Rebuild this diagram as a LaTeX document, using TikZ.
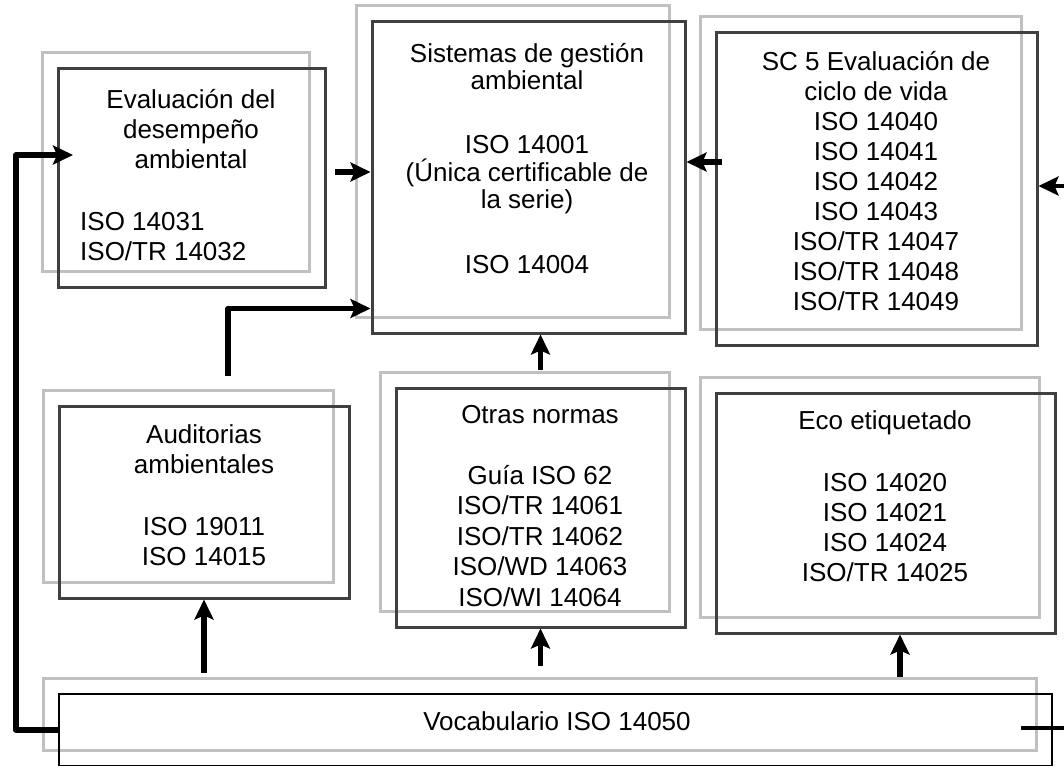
\documentclass[tikz,border=0pt]{standalone}
\usepackage{fontspec}
\setmainfont{Liberation Sans}
\usepackage{tikz}
\usetikzlibrary{arrows.meta,positioning,shadows,calc}
\definecolor{grisoscuro}{RGB}{64,64,64}
\definecolor{grisclaro}{RGB}{192,192,192}
\tikzset{
  caja/.style={rectangle,draw=grisoscuro,line width=3pt,inner sep=0pt,
    general shadow={shadow xshift=-16pt,shadow yshift=16pt,draw=grisclaro,line width=3pt}},
  texto/.style={align=center,inner sep=0pt,anchor=base,
    font=\fontsize{26}{30}\selectfont},
  flecha/.style={-{Stealth[length=20pt,width=19pt,inset=4pt]},line width=5.5pt,
    line join=round}
}

\begin{document}
\begin{tikzpicture}[x=1pt,y=-1pt]
\useasboundingbox (0,0) rectangle (1064,765);
\clip (0,0) rectangle (1064,765);
% cajas
\node[caja,minimum width=267pt,minimum height=218pt] (eda) at (191.5,178) {};
\node[caja,minimum width=313pt,minimum height=311pt] (sga) at (528.5,177.5) {};
\node[caja,minimum width=321pt,minimum height=312pt] (acv) at (876.5,189) {};
\node[caja,minimum width=290pt,minimum height=192pt] (aud) at (204,502) {};
\node[caja,minimum width=289pt,minimum height=239pt] (otr) at (540.5,507.5) {};
\node[caja,minimum width=339pt,minimum height=240pt] (eco) at (885.5,513) {};
\node[caja,draw=black,line width=2.5pt,minimum width=993pt,minimum height=72pt] (voc) at (555.5,730) {};
% textos (base = ultima linea)
\node[texto] (edat) at (191,168) {Evaluación del\\desempeño\\ambiental};
\node[texto,align=left,anchor=base west] (edal) at (80,260) {ISO 14031\\ISO/TR 14032};
\node[texto,font=\fontsize{26}{27.5}\selectfont] (sgat) at (527,273)
  {Sistemas de gestión\\ambiental\\[36.5pt]ISO 14001\\(Única certificable de\\la serie)\\[37pt]ISO 14004};
\node[texto] (acvt) at (876,310) {SC 5 Evaluación de\\ciclo de vida\\ISO 14040\\ISO 14041\\ISO 14042\\ISO 14043\\ISO/TR 14047\\ISO/TR 14048\\ISO/TR 14049};
\node[texto] (audt) at (204,565) {Auditorias\\ambientales\\[32pt]ISO 19011\\ISO 14015};
\node[texto,font=\fontsize{26}{30.5}\selectfont] (otrt) at (540,606)
  {Otras normas\\[30pt]Guía ISO 62\\ISO/TR 14061\\ISO/TR 14062\\ISO/WD 14063\\ISO/WI 14064};
\node[texto] (ecot) at (885,581) {Eco etiquetado\\[32pt]ISO 14020\\ISO 14021\\ISO 14024\\ISO/TR 14025};
\node[texto] (voct) at (557,730) {Vocabulario ISO 14050};
% flechas
\coordinate (eda-in) at (73,155);
\draw[flecha] (voc.west) -- ++(-42,0) |- (eda-in);
\draw[flecha] ($(eda.east)+(8,-6)$) -- ($(sga.west)+(0,-5.5)$);
\draw[flecha] ($(aud.north)+(24,-29)$) |- ($(sga.south west)+(0,-26)$);
\draw[flecha] ($(otr.north)+(0,-17)$) -- (otr.north |- sga.south);
\draw[flecha] ($(acv.west)+(7,-27)$) -- ($(sga.east)+(0,-15.5)$);
\draw[flecha,line width=4pt] ($(voc.east)+(-32,-2)$) -- ++(60,0) |- ($(acv.east)+(0,-3)$);
\draw[flecha] ($(voc.north -| aud.south)+(0,-20)$) -- (aud.south);
\draw[flecha] ($(voc.north -| otr.south)+(0,-27)$) -- (otr.south);
\draw[flecha] ($(eco.south)+(14.5,42)$) -- ($(eco.south)+(14.5,0)$);
\end{tikzpicture}
\end{document}
